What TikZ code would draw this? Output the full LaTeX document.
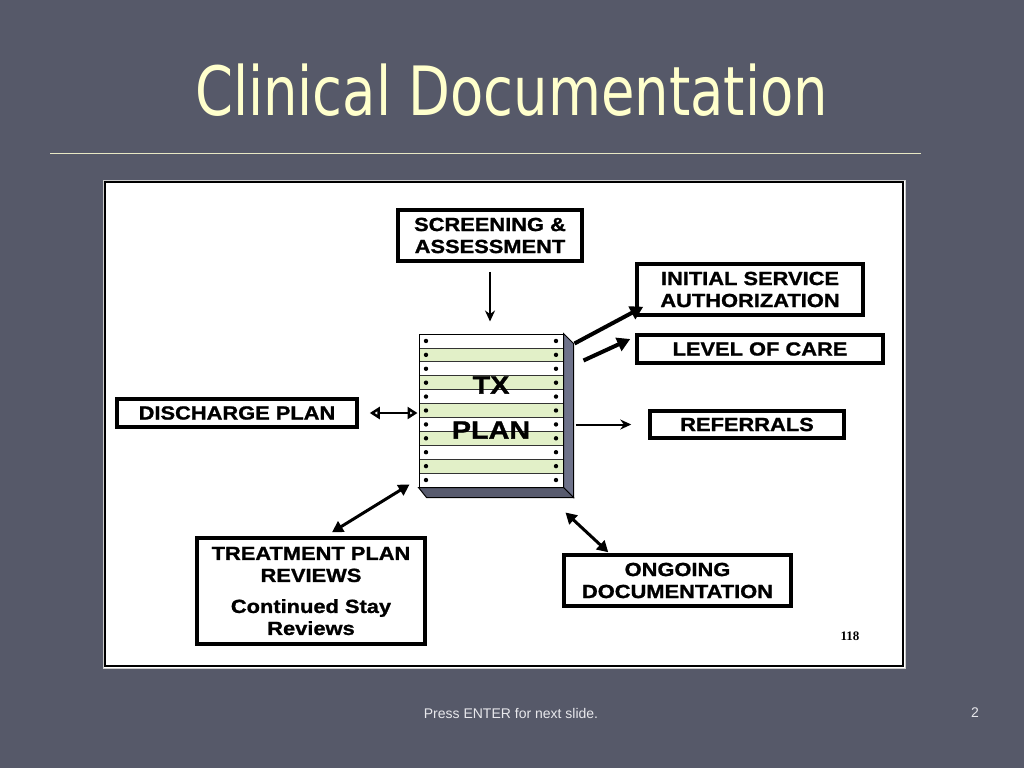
\documentclass[tikz,border=0pt]{standalone}
\usepackage{fontspec}
\usepackage{tikz}
\usetikzlibrary{arrows.meta}
\setmainfont{Liberation Sans}
\newfontfamily\titlefont[FakeStretch=0.8]{DejaVu Sans}
\newfontfamily\boxfont[FakeStretch=1.15,FakeBold=1.2]{Liberation Sans}
\newfontfamily\pagefont{Liberation Serif}
\definecolor{slide-bg}{RGB}{86,89,105}
\definecolor{title-yellow}{RGB}{255,255,204}
\definecolor{rule-yellow}{RGB}{232,232,196}
\definecolor{row-green}{RGB}{226,240,200}
\definecolor{side-gray}{RGB}{110,114,138}
\definecolor{foot-gray}{RGB}{232,232,236}
\tikzset{
    doc-box/.style = {draw=black, fill=white, line width=3.5pt, rectangle, inner sep=0pt, align=center, font=\boxfont\bfseries\fontsize{19}{22}\selectfont},
    tx-front/.style = {draw=black, line width=1pt, rectangle, inner sep=0pt, minimum width=144pt, minimum height=153pt, text depth=6pt, align=center, font=\boxfont\bfseries\fontsize{25}{45}\selectfont},
    link-arrow/.style = {draw=black, line width=2pt, -{Stealth[length=11pt,width=10pt]}},
    thick-arrow/.style = {draw=black, line width=4pt, -{Triangle[length=13pt,width=14pt]}},
    both-arrow/.style = {draw=black, line width=3pt, {Triangle[length=11pt,width=12pt]}-{Triangle[length=11pt,width=12pt]}},
    open-arrow/.style = {draw=black, line width=2.5pt, {Triangle[open,length=10pt,width=12pt]}-{Triangle[open,length=10pt,width=12pt]}},
}

\begin{document}
\begin{tikzpicture}[x=1pt, y=-1pt]
\fill[slide-bg] (0,0) rectangle (1024,768);
\useasboundingbox (0,0) rectangle (1024,768);
\node[anchor=base, text=title-yellow, font=\titlefont\fontsize{68}{68}\selectfont] (title) at (511.5,115) {Clinical Documentation};
\draw[rule-yellow, line width=1pt] (50,153) -- (921,153);
\draw[gray!40, line width=1pt, fill=white] (103,180) rectangle (905,668);
\draw[black, line width=2.5pt] (105,182) rectangle (903,666);

\foreach \i [evaluate=\i as \y using 334+13.909*\i] in {0,...,10} {
    \ifodd\i \fill[row-green] (419,\y) rectangle (563,\y+13.909); \fi
    \draw[black!80, line width=0.8pt] (419,\y) -- (563,\y);
    \fill (426,\y+6.95) circle (2.2);
    \fill (556,\y+6.95) circle (2.2);
}
\node[tx-front] (tx) at (491,410.5) {TX\\PLAN};
\filldraw[fill=side-gray, draw=black, line width=1pt] (tx.north east) -- ++(10,10) -- ([shift={(10,10)}]tx.south east) -- (tx.south east) -- cycle;
\filldraw[fill=side-gray!80!black, draw=black, line width=1pt] (tx.south west) -- ++(8,10) -- ([shift={(10,10)}]tx.south east) -- (tx.south east) -- cycle;

\node[doc-box, minimum width=184pt, minimum height=51pt] (screen) at (490,235.5) {SCREENING \&\\ASSESSMENT};
\node[doc-box, minimum width=226pt, minimum height=51pt] (init) at (750,289.5) {INITIAL SERVICE\\AUTHORIZATION};
\node[doc-box, minimum width=246pt, minimum height=28pt] (level) at (760,349) {LEVEL OF CARE};
\node[doc-box, minimum width=194pt, minimum height=27pt] (refer) at (747,424.5) {REFERRALS};
\node[doc-box, minimum width=240pt, minimum height=28pt] (disch) at (237,413) {DISCHARGE PLAN};
\node[doc-box, minimum width=228pt, minimum height=106pt] (treat) at (311,591) {TREATMENT PLAN\\REVIEWS\\[9pt]Continued Stay\\Reviews};
\node[doc-box, minimum width=227pt, minimum height=51pt] (ongo) at (677.5,580.5) {ONGOING\\DOCUMENTATION};

\draw[link-arrow, shorten <=9pt, shorten >=12pt] (screen.south) -- (screen.south |- tx.north);
\draw[thick-arrow] ([shift={(11,10)}]tx.north east) -- ([shift={(8,-10)}]init.south west);
\draw[thick-arrow] ([shift={(20,27)}]tx.north east) -- ([shift={(-5,-10)}]level.west);
\draw[link-arrow, shorten <=12pt, shorten >=17pt] (tx.east |- refer.west) -- (refer.west);
\draw[open-arrow, shorten <=11pt, shorten >=1pt] (disch.east) -- (disch.east -| tx.west);
\draw[both-arrow] ([shift={(21,-4)}]treat.north) -- ([shift={(-9,-3)}]tx.south west);
\draw[both-arrow] ([shift={(2,25)}]tx.south east) -- ([shift={(46,-1)}]ongo.north west);

\node[font=\pagefont\bfseries\fontsize{13}{13}\selectfont] (page-no) at (850,636) {118};
\node[text=foot-gray, font=\fontsize{14}{14}\selectfont] (footer) at (511,713) {Press ENTER for next slide.};
\node[text=foot-gray, font=\fontsize{14}{14}\selectfont] (slide-no) at (975,713) {2};
\end{tikzpicture}
\end{document}
